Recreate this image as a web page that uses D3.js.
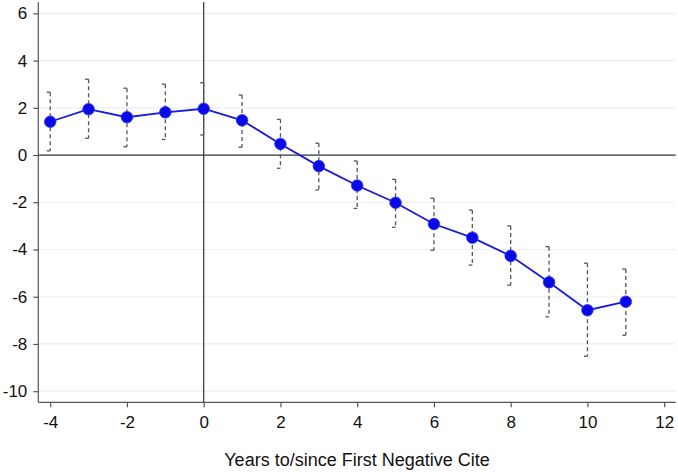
<!DOCTYPE html>
<html>
<head>
<meta charset="utf-8">
<script src="https://cdn.jsdelivr.net/npm/d3@7"></script>
<style>
  html, body { margin: 0; padding: 0; background: #fff; }
  svg { display: block; font-family: "Liberation Sans", Arial, Helvetica, sans-serif; }
</style>
</head>
<body>
<svg id="chart" width="678" height="472"></svg>
<script>
// Data
const years = [-4, -3, -2, -1, 0, 1, 2, 3, 4, 5, 6, 7, 8, 9, 10, 11];
const estimates = [1.41, 1.94, 1.60, 1.81, 1.96, 1.47, 0.47, -0.47, -1.29, -2.02, -2.92, -3.50, -4.27, -5.39, -6.57, -6.21];
const ciUpper = [2.66, 3.21, 2.83, 3.00, 3.06, 2.54, 1.51, 0.50, -0.25, -1.03, -1.83, -2.33, -3.00, -3.88, -4.58, -4.83];
const ciLower = [0.18, 0.71, 0.35, 0.66, 0.85, 0.33, -0.56, -1.48, -2.26, -3.06, -4.03, -4.66, -5.51, -6.85, -8.52, -7.63];
const xTicks = [-4, -2, 0, 2, 4, 6, 8, 10, 12];
const yTicks = [6, 4, 2, 0, -2, -4, -6, -8, -10];
const xTitle = "Years to/since First Negative Cite";

const data = years.map((yr, i) => ({ x: yr, est: estimates[i], hi: ciUpper[i], lo: ciLower[i] }));

const svg = d3.select("#chart");
const pLeft = 38.3, pRight = 675.7, pTop = 2, pBottom = 402.3;

const x = d3.scaleLinear().domain([-4.31, 12.30]).range([pLeft, pRight]);
const y = d3.scaleLinear().domain([-10.47, 6.48]).range([pBottom, pTop]);

// gridlines
svg.append("g").selectAll("line").data(yTicks.filter(d => d !== 0)).join("line")
  .attr("x1", pLeft).attr("x2", pRight)
  .attr("y1", d => y(d)).attr("y2", d => y(d))
  .attr("stroke", "#eaeff2").attr("stroke-width", 1.2);

// zero reference lines
svg.append("line")
  .attr("x1", pLeft).attr("x2", pRight)
  .attr("y1", y(0)).attr("y2", y(0))
  .attr("stroke", "#333").attr("stroke-width", 1.2);
svg.append("line")
  .attr("x1", x(0)).attr("x2", x(0))
  .attr("y1", pTop).attr("y2", pBottom)
  .attr("stroke", "#333").attr("stroke-width", 1.2);

const fmt = d => d < 0 ? "-" + Math.abs(d) : String(d);

// axes
const yAxis = d3.axisLeft(y).tickValues(yTicks).tickSize(5).tickPadding(6).tickFormat(fmt);
const gy = svg.append("g").attr("transform", `translate(${pLeft},0)`).call(yAxis);
gy.select(".domain").attr("d", `M0,${pTop}V${pBottom}`).attr("stroke", "#555").attr("stroke-width", 1.2);
gy.selectAll(".tick line").attr("stroke", "#555").attr("stroke-width", 1.2);
gy.selectAll(".tick text").attr("font-size", 17).attr("fill", "#111");

const xAxis = d3.axisBottom(x).tickValues(xTicks).tickSize(5).tickPadding(8.5).tickFormat(fmt);
const gx = svg.append("g").attr("transform", `translate(0,${pBottom})`).call(xAxis);
gx.select(".domain").attr("d", `M${pLeft},0H${pRight}`).attr("stroke", "#555").attr("stroke-width", 1.2);
gx.selectAll(".tick line").attr("stroke", "#555").attr("stroke-width", 1.2);
gx.selectAll(".tick text").attr("font-size", 17).attr("fill", "#111");

// axis title
svg.append("text")
  .attr("x", (pLeft + pRight) / 2).attr("y", 466)
  .attr("text-anchor", "middle").attr("font-size", 18).attr("fill", "#111")
  .text(xTitle);

// error bars
const eb = svg.append("g").selectAll("g").data(data).join("g");
eb.append("line")
  .attr("x1", d => x(d.x)).attr("x2", d => x(d.x))
  .attr("y1", d => y(d.hi)).attr("y2", d => y(d.lo))
  .attr("stroke", "#555").attr("stroke-width", 1.3).attr("stroke-dasharray", "4,3");
eb.append("line")
  .attr("x1", d => x(d.x) - 3.5).attr("x2", d => x(d.x))
  .attr("y1", d => y(d.hi)).attr("y2", d => y(d.hi))
  .attr("stroke", "#555").attr("stroke-width", 1.3);
eb.append("line")
  .attr("x1", d => x(d.x) - 3.5).attr("x2", d => x(d.x))
  .attr("y1", d => y(d.lo)).attr("y2", d => y(d.lo))
  .attr("stroke", "#555").attr("stroke-width", 1.3);

// line + points
svg.append("path").datum(data)
  .attr("fill", "none").attr("stroke", "#1a1adf").attr("stroke-width", 1.8)
  .attr("d", d3.line().x(d => x(d.x)).y(d => y(d.est)));
svg.append("g").selectAll("circle").data(data).join("circle")
  .attr("cx", d => x(d.x)).attr("cy", d => y(d.est)).attr("r", 5.8)
  .attr("fill", "#0a0ae6").attr("stroke", "#3434f0").attr("stroke-width", 0.8);
</script>
</body>
</html>
